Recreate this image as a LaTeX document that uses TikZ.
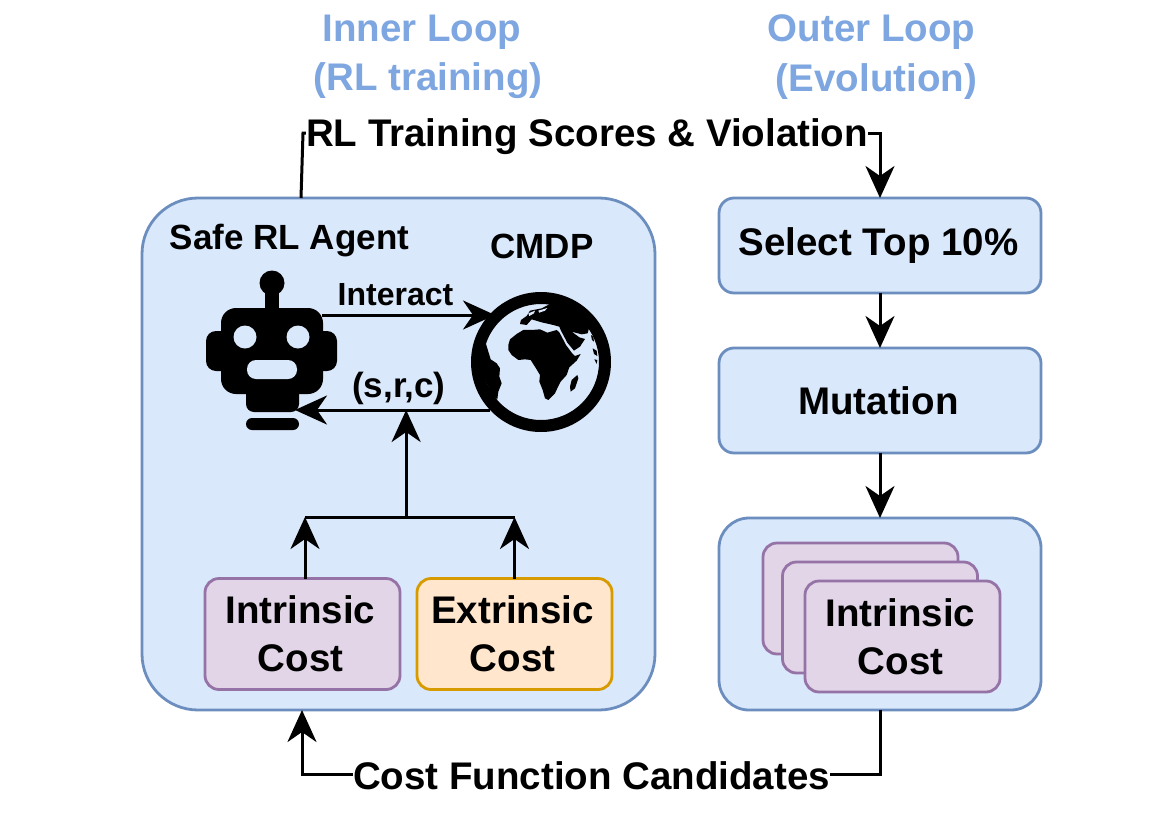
\documentclass[tikz,border=0pt]{standalone}
\usepackage{fontspec}
\setmainfont{Liberation Sans}
\usepackage{tikz}
\usetikzlibrary{arrows.meta,positioning}

\definecolor{boxblue}{HTML}{DAE8FC}
\definecolor{lineblue}{HTML}{6C8EBF}
\definecolor{boxpurple}{HTML}{E1D5E7}
\definecolor{linepurple}{HTML}{9673A6}
\definecolor{boxorange}{HTML}{FFE6CC}
\definecolor{lineorange}{HTML}{D79B00}
\definecolor{titleblue}{HTML}{7EA6E0}

\newcommand{\cardtext}[1]{\hspace*{-4pt}#1\\\hspace*{-4pt}Cost}

\tikzset{
  bigfont/.style={font=\bfseries\fontsize{38.5}{48}\selectfont},
  midfont/.style={font=\bfseries\fontsize{35}{42}\selectfont},
  bluebox/.style={draw=lineblue, fill=boxblue, line width=2.8pt, outer sep=0pt, inner sep=0pt,
    align=center, bigfont},
  costcard/.style={draw=linepurple, fill=boxpurple, line width=2.8pt, outer sep=0pt, inner sep=0pt,
    rounded corners=14pt, minimum width=195pt, minimum height=111pt, align=center, bigfont},
  flow/.style={line width=3pt, -{Stealth[length=32pt,width=29pt,inset=10pt]}},
  wire/.style={line width=3pt},
  titletext/.style={font=\bfseries\fontsize{38.5}{49.5}\selectfont, text=titleblue, align=center},
}

\begin{document}
\begin{tikzpicture}[x=1pt, y=-1pt]
  \useasboundingbox (0,0) rectangle (1160,814);

  % Boxes
  \node[bluebox, minimum width=513pt, minimum height=512pt, rounded corners=56pt]
        (agent) at (398.5,454) {};
  \node[bluebox, minimum width=322pt, minimum height=95pt, rounded corners=15pt,
        right=64pt of agent.north east, anchor=north west]
        (select) {\hspace*{-3pt}\raisebox{-3pt}{Select Top 10\%}};
  \node[bluebox, minimum width=322pt, minimum height=105pt, rounded corners=15pt,
        below=55pt of select]
        (mutate) {\hspace*{-3pt}Mutation};
  \node[bluebox, minimum width=322pt, minimum height=192pt, rounded corners=30pt,
        below=65pt of mutate]
        (pool) {};

  % Cost cards
  \node[costcard] (intrinsic) at (302.5,634) {\cardtext{Intrinsic}};
  \node[costcard, fill=boxorange, draw=lineorange, right=17pt of intrinsic] (extrinsic) {\cardtext{Extrinsic}};
  \node[costcard] (cardback) at (860.5,598.5) {};
  \node[costcard] (cardmid) at (880,617.5) {};
  \node[costcard] (cardfront) at (902.5,636.5) {\cardtext{Intrinsic}};

  % Texts
  \node[titletext] (innertitle) at (422,57) {Inner Loop\\\hspace*{12pt}(RL training)};
  \node[titletext] (outertitle) at (871.5,57) {Outer Loop\\\hspace*{10pt}(Evolution)};
  \node[midfont] (agentname) at (289.5,241) {Safe RL Agent};
  \node[midfont] (cmdpname) at (542,246) {CMDP};
  \node[bigfont, inner sep=0pt] (scores) at (587,137) {RL Training Scores \& Violation};
  \node[bigfont, inner sep=0pt] (candidates) at (591.5,776) {Cost Function Candidates};

  % Robot
  \fill (272,283) circle (12.5);
  \fill (265,290) rectangle (279,312);
  \fill[rounded corners=10pt] (206,331) rectangle (337,371);
  \fill[rounded corners=8pt] (246,385) rectangle (299,412);
  \fill[rounded corners=15pt] (221,308) rectangle (323,394);
  \fill[rounded corners=6pt] (246,418) rectangle (299,430);
  \fill[boxblue] (245,337) circle (11.5) (298,337) circle (11.5);
  \fill[boxblue, rounded corners=9pt] (247,360) rectangle (297,379);
  \coordinate (robotout) at (322,315);
  \coordinate (robotin) at (295,410);

  % Globe
  \fill[even odd rule] (541,362) circle (70) (541,362) circle (58);
  \begin{scope}[shift={(460,280)}, x=0.3333pt, y=-0.3333pt]
    % Africa
    \fill (145,195) -- (150,178) -- (170,162) -- (190,150) -- (215,150) -- (240,148) -- (262,158)
      -- (290,150) -- (298,157) -- (305,170) -- (318,195) -- (335,218) -- (345,228) -- (362,222)
      -- (350,242) -- (328,262) -- (320,285) -- (302,305) -- (292,325) -- (285,340) -- (265,360)
      -- (255,355) -- (248,330) -- (238,305) -- (240,285) -- (228,265) -- (212,240) -- (195,238)
      -- (175,240) -- (155,225) -- (145,210) -- cycle;
    % Madagascar
    \fill (335,300) -- (352,285) -- (355,295) -- (345,325) -- (332,335) -- (330,320) -- cycle;
    % South America
    \fill (78,192) -- (85,215) -- (92,238) -- (110,250) -- (120,265) -- (118,290) -- (125,310)
      -- (115,335) -- (112,358) -- (95,345) -- (60,260) -- (62,200) -- cycle;
    % Eurasia
    \fill (270,72) -- (245,85) -- (210,92) -- (200,108) -- (183,120) -- (180,132) -- (200,135)
      -- (215,118) -- (245,127) -- (280,135) -- (298,140) -- (302,150) -- (322,188) -- (342,212)
      -- (360,200) -- (375,177) -- (358,172) -- (335,155) -- (365,163) -- (383,160) -- (387,145)
      -- (410,150) -- (375,95) -- (320,70) -- cycle;
    \fill[boxblue] (205,100) -- (225,92) -- (222,100) -- (208,108) -- cycle;
    \fill[boxblue] (235,92) -- (262,84) -- (255,92) -- (238,98) -- cycle;
    \fill (393,165) -- (400,170) -- (402,185) -- (396,180) -- cycle;
    \fill (398,205) -- (410,212) -- (412,228) -- (402,222) -- cycle;
    \fill (403,238) -- (412,240) -- (410,252) -- cycle;
  \end{scope}
  \coordinate (globein) at (495,315);
  \coordinate (globeout) at (490,410);

  % Arrows inside the agent box
  \draw[flow] (robotout) -- (globein) node[pos=0.425, above, yshift=8pt, font=\bfseries\fontsize{32}{38}\selectfont, inner sep=0pt] (interact) {Interact};
  \draw[flow] (globeout) -- (robotin) coordinate[pos=0.43] (merge) node[pos=0.467, above, yshift=4pt, font=\bfseries\fontsize{35}{40}\selectfont, inner sep=0pt] (sample) {(s,r,c)};
  \coordinate (join) at (merge |- 0,517);
  \draw[flow] (intrinsic.north -| 305,0) -- (305,517);
  \draw[flow] (extrinsic.north) -- (extrinsic.center |- join);
  \draw[wire] (305,517) -- (extrinsic.center |- join);
  \draw[flow] (join) -- (merge);

  % Loop between the two sides
  \draw[wire] (301,198) -- (303,133) -- (scores.west |- 0,133);
  \draw[flow] (scores.east |- 0,133) -- (880,133) -- (select.north -| 880,0);
  \draw[flow] (select.south -| 880,0) -- (mutate.north -| 880,0);
  \draw[flow] (mutate.south -| 880,0) -- (pool.north -| 880,0);
  \draw[wire] (pool.south -| 880,0) -- (880,774) -- (candidates.east |- 0,774);
  \draw[flow] (candidates.west |- 0,774) -- (302,774) -- (agent.south -| 302,0);
\end{tikzpicture}
\end{document}
